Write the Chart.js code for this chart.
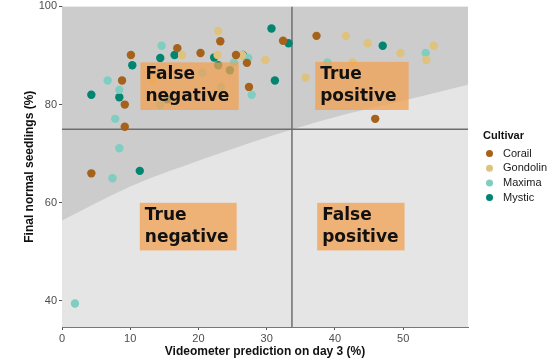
<!DOCTYPE html>
<html>
<head>
<meta charset="utf-8">
<script src="https://cdn.jsdelivr.net/npm/chart.js@4.4.1/dist/chart.umd.min.js"></script>
<style>
  html, body { margin: 0; padding: 0; background: #fff; }
  #wrap { width: 554px; height: 363px; }
</style>
</head>
<body>
<div id="wrap"><canvas id="chart"></canvas></div>
<script>
// values
const CULTIVARS = ['Corail', 'Gondolin', 'Maxima', 'Mystic'];
const COLORS = ['#a6611a', '#dfc27d', '#80cdc1', '#018571'];

const corailX = [16.9, 20.3, 10.1, 8.8, 9.2, 9.2, 23.2, 37.3, 32.4, 25.5, 27.1, 27.4, 45.9, 4.3];
const corailY = [91.5, 90.5, 90.1, 84.9, 80.0, 75.5, 92.9, 94.0, 93.0, 90.1, 88.5, 83.6, 77.1, 66.0];

const gondolinX = [17.6, 22.9, 22.8, 26.4, 29.8, 35.7, 41.6, 44.8, 49.6, 54.5, 53.4, 42.6, 13.4];
const gondolinY = [90.1, 95.0, 90.1, 90.1, 89.1, 85.5, 94.0, 92.5, 90.5, 92.0, 89.1, 88.6, 84.9];

const maximaX = [14.6, 6.7, 8.4, 7.8, 8.4, 7.4, 1.9, 27.3, 27.8, 38.9, 53.3, 25.2, 20.6, 23.3, 14.4];
const maximaY = [92.0, 84.9, 83.0, 77.1, 71.1, 65.0, 39.5, 89.5, 82.0, 88.6, 90.5, 88.6, 86.5, 83.6, 79.9];

const mysticX = [14.4, 16.5, 10.3, 4.3, 8.4, 11.4, 30.7, 33.2, 22.3, 26.5, 31.2, 47.0, 22.9, 24.6, 15.4];
const mysticY = [89.5, 90.1, 88.0, 82.0, 81.5, 66.5, 95.5, 92.5, 89.6, 90.1, 84.9, 92.0, 88.0, 87.0, 81.1];

// boundary between the dark and light background areas
const boundaryX = [0, 10, 20.9, 27.5, 33.8, 42, 50, 60];
const boundaryY = [56.4, 63.3, 69.0, 72.2, 75.0, 78.2, 80.8, 84.2];

// threshold lines
const THRESH_X = 33.7;
const THRESH_Y = 75;

const X_TICKS = [0, 10, 20, 30, 40, 50];
const Y_TICKS = [40, 60, 80, 100];
const X_MIN = 0, X_MAX = 59.5, Y_MIN = 34.7, Y_MAX = 100;

// quadrant labels: [x1, x2, y1, y2, line1, line2]
const LABELS = [
  [11.5, 25.9, 88.6, 78.9, 'False', 'negative'],
  [37.1, 50.8, 88.7, 78.9, 'True', 'positive'],
  [11.4, 25.6, 60.0, 50.3, 'True', 'negative'],
  [37.4, 50.2, 60.0, 50.3, 'False', 'positive']
];

const series = [[corailX, corailY], [gondolinX, gondolinY], [maximaX, maximaY], [mysticX, mysticY]];
const pts = (xs, ys) => xs.map((x, i) => ({ x: x, y: ys[i] }));

const datasets = series.map((s, i) => ({
  label: CULTIVARS[i],
  data: pts(s[0], s[1]),
  backgroundColor: COLORS[i],
  borderWidth: 0,
  pointRadius: 4.2,
  order: 1
}));

datasets.push({
  label: 'vline',
  data: [{ x: THRESH_X, y: Y_MIN }, { x: THRESH_X, y: Y_MAX }],
  showLine: true, borderColor: '#6e6e6e', borderWidth: 1.5, pointRadius: 0, order: 2
});
datasets.push({
  label: 'hline',
  data: [{ x: X_MIN, y: THRESH_Y }, { x: X_MAX, y: THRESH_Y }],
  showLine: true, borderColor: '#6e6e6e', borderWidth: 1.5, pointRadius: 0, order: 2
});
datasets.push({
  label: 'boundary',
  data: pts(boundaryX, boundaryY),
  showLine: true, fill: 'end', backgroundColor: '#cccccc', borderWidth: 0,
  pointRadius: 0, cubicInterpolationMode: 'monotone', order: 3
});

const panelBg = {
  id: 'panelBg',
  beforeDatasetsDraw(chart) {
    const { ctx, chartArea: a } = chart;
    ctx.save();
    ctx.fillStyle = '#e5e5e5';
    ctx.fillRect(a.left, a.top, a.right - a.left, a.bottom - a.top);
    ctx.restore();
  }
};

const quadrantLabels = {
  id: 'quadrantLabels',
  afterDatasetsDraw(chart) {
    const { ctx, scales: { x, y } } = chart;
    ctx.save();
    LABELS.forEach(l => {
      const x1 = x.getPixelForValue(l[0]), x2 = x.getPixelForValue(l[1]);
      const y1 = y.getPixelForValue(l[2]), y2 = y.getPixelForValue(l[3]);
      ctx.fillStyle = 'rgba(243,160,80,0.74)';
      ctx.fillRect(x1, y1, x2 - x1, y2 - y1);
      ctx.fillStyle = '#111';
      ctx.font = 'bold 17px "DejaVu Sans"';
      ctx.textBaseline = 'alphabetic';
      ctx.fillText(l[4], x1 + 5, y1 + 17);
      ctx.fillText(l[5], x1 + 5, y1 + 39);
    });
    ctx.restore();
  }
};

const sideLegend = {
  id: 'sideLegend',
  afterDraw(chart) {
    const { ctx, chartArea: a } = chart;
    const left = a.right + 15;
    ctx.save();
    ctx.fillStyle = '#111';
    ctx.font = 'bold 11px "Liberation Sans"';
    ctx.textBaseline = 'alphabetic';
    ctx.fillText('Cultivar', left, 139);
    ctx.font = '11px "Liberation Sans"';
    ctx.textBaseline = 'middle';
    CULTIVARS.forEach((c, i) => {
      const cy = 153.5 + i * 14.7;
      ctx.beginPath();
      ctx.fillStyle = COLORS[i];
      ctx.arc(left + 6.5, cy, 3.5, 0, Math.PI * 2);
      ctx.fill();
      ctx.fillStyle = '#1a1a1a';
      ctx.fillText(c, left + 20, cy);
    });
    ctx.restore();
  }
};

const tickFont = { family: '"Liberation Sans"', size: 11 };
const yTickFont = { family: '"Liberation Sans"', size: 11, lineHeight: 0.8 };
const titleFont = { family: '"Liberation Sans"', size: 12, weight: 'bold' };

new Chart(document.getElementById('chart'), {
  type: 'scatter',
  data: { datasets: datasets },
  options: {
    responsive: true,
    maintainAspectRatio: false,
    animation: false,
    layout: { padding: { top: 0, right: 86, left: 0, bottom: 0 } },
    plugins: { legend: { display: false }, tooltip: { enabled: false } },
    scales: {
      x: {
        min: X_MIN, max: X_MAX,
        afterBuildTicks: s => { s.ticks = X_TICKS.map(v => ({ value: v })); },
        afterFit: s => { s.height = 36; },
        grid: { drawOnChartArea: false, tickLength: 3, color: '#555' },
        border: { color: '#777', width: 1 },
        ticks: { color: '#4d4d4d', font: tickFont, padding: 2 },
        title: { display: true, text: 'Videometer prediction on day 3 (%)', color: '#111', font: titleFont, padding: { top: 0, bottom: 4 } }
      },
      y: {
        min: Y_MIN, max: Y_MAX,
        afterBuildTicks: s => { s.ticks = Y_TICKS.map(v => ({ value: v })); },
        afterFit: s => { s.width = 62; },
        grid: { drawOnChartArea: false, tickLength: 3, color: '#555' },
        border: { color: '#777', width: 1 },
        ticks: { color: '#4d4d4d', font: yTickFont, padding: 2 },
        title: { display: true, text: 'Final normal seedlings (%)', color: '#111', font: titleFont, padding: { top: 22, bottom: 0 } }
      }
    }
  },
  plugins: [panelBg, quadrantLabels, sideLegend]
});
</script>
</body>
</html>
